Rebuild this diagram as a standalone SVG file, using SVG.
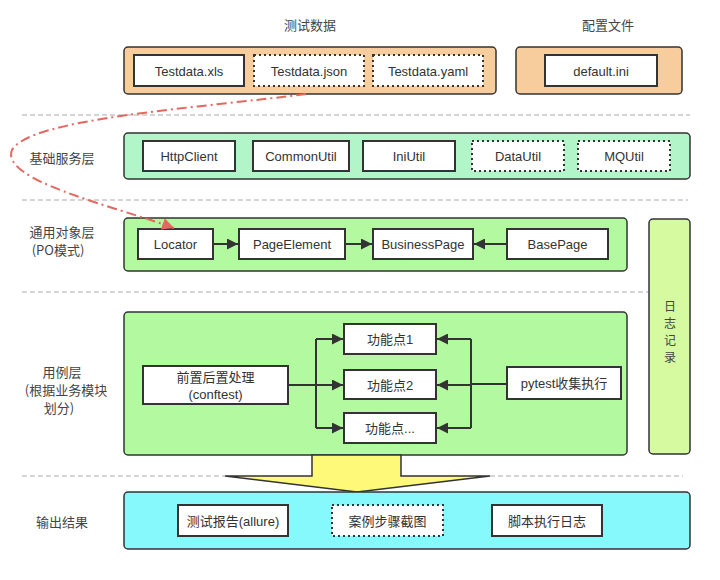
<svg xmlns="http://www.w3.org/2000/svg" width="720" height="580" viewBox="0 0 720 580">
<defs>
<style>
text{font-family:"Liberation Sans","Noto Sans CJK SC",sans-serif;font-size:13px;fill:#333;text-anchor:middle;dominant-baseline:central}
.lbl{font-family:"Noto Sans CJK SC","Liberation Sans",sans-serif;font-size:13px;fill:#444}
.vl{font-family:"Noto Sans CJK SC",sans-serif;font-size:12px;fill:#444}
.cont{stroke:#333;stroke-width:1.5}
.box{fill:#fff;stroke:#333;stroke-width:2}
.dot{fill:#fff;stroke:#333;stroke-width:2;stroke-dasharray:2 3}
.sep{stroke:#aaa;stroke-width:1;stroke-dasharray:5 3;fill:none}
.conn{stroke:#333;stroke-width:2;fill:none}
</style>
<marker id="ah" viewBox="0 0 10 10" refX="10" refY="5" markerWidth="5.5" markerHeight="5.5" orient="auto" markerUnits="strokeWidth">
<path d="M0,0 L10,5 L0,10 z" fill="#333"/>
</marker>
<marker id="rh" viewBox="0 0 10 10" refX="10" refY="5" markerWidth="6" markerHeight="6" orient="auto" markerUnits="strokeWidth">
<path d="M0,0 L10,5 L0,10 z" fill="#E5675F"/>
</marker>
</defs>
<rect width="720" height="580" fill="#fff"/>

<g id="separators">
<line class="sep" x1="22" y1="115" x2="690" y2="115"/>
<line class="sep" x1="22" y1="200" x2="688" y2="200"/>
<line class="sep" x1="22" y1="292" x2="648" y2="292"/>
<line class="sep" x1="22" y1="476" x2="225" y2="476"/>
<line class="sep" x1="490" y1="476" x2="683" y2="476"/>
</g>

<g id="layer-labels">
<text class="lbl" x="310" y="24">测试数据</text>
<text class="lbl" x="608" y="24">配置文件</text>
<text class="lbl" x="62" y="157">基础服务层</text>
<text class="lbl" x="62" y="231">通用对象层</text>
<text class="lbl" x="58" y="249">(PO模式)</text>
<text class="lbl" x="62" y="371">用例层</text>
<text class="lbl" x="66" y="389">(根据业务模块</text>
<text class="lbl" x="59" y="407">划分)</text>
<text class="lbl" x="62" y="521">输出结果</text>
</g>

<g id="testdata">
<rect class="cont" x="124" y="47" width="372" height="47" rx="4" fill="#F7CD9E"/>
<g id="xls"><rect class="box" x="134" y="55" width="110" height="31"/><text x="189" y="71">Testdata.xls</text></g>
<g id="json"><rect class="dot" x="254" y="55" width="110" height="31"/><text x="309" y="71">Testdata.json</text></g>
<g id="yaml"><rect class="dot" x="373" y="55" width="110" height="31"/><text x="428" y="71">Testdata.yaml</text></g>
</g>

<g id="config">
<rect class="cont" x="516" y="47" width="166" height="47" rx="4" fill="#F7CD9E"/>
<g id="defaultini"><rect class="box" x="545" y="55" width="112" height="31"/><text x="601" y="71">default.ini</text></g>
</g>

<g id="base-layer">
<rect class="cont" x="124" y="133" width="566" height="46" rx="4" fill="#B2F5C9"/>
<g id="httpclient"><rect class="box" x="143" y="141" width="92" height="30"/><text x="189" y="156">HttpClient</text></g>
<g id="commonutil"><rect class="box" x="253" y="141" width="96" height="30"/><text x="301" y="156">CommonUtil</text></g>
<g id="iniutil"><rect class="box" x="363" y="141" width="92" height="30"/><text x="409" y="156">IniUtil</text></g>
<g id="datautil"><rect class="dot" x="472" y="141" width="92" height="30"/><text x="518" y="156">DataUtil</text></g>
<g id="mqutil"><rect class="dot" x="578" y="141" width="92" height="30"/><text x="624" y="156">MQUtil</text></g>
</g>

<g id="po-layer">
<rect class="cont" x="124" y="218" width="503" height="53" rx="4" fill="#B3F99F"/>
<g id="locator"><rect class="box" x="138" y="229" width="75" height="30"/><text x="175.500" y="244">Locator</text></g>
<g id="pageelement"><rect class="box" x="239" y="229" width="106" height="30"/><text x="292" y="244">PageElement</text></g>
<g id="businesspage"><rect class="box" x="373" y="229" width="100" height="30"/><text x="423" y="244">BusinessPage</text></g>
<g id="basepage"><rect class="box" x="507" y="229" width="101" height="30"/><text x="557.500" y="244">BasePage</text></g>
</g>

<g id="case-layer">
<rect class="cont" x="124" y="312" width="503" height="143" rx="4" fill="#B3F99F"/>
<g id="fixture"><rect class="box" x="143" y="366" width="145" height="38"/><text x="215.500" y="377">前置后置处理</text><text x="215.500" y="394">(conftest)</text></g>
<g id="func1"><rect class="box" x="344" y="324" width="92" height="30"/><text x="390" y="339">功能点1</text></g>
<g id="func2"><rect class="box" x="344" y="370" width="92" height="29"/><text x="390" y="385">功能点2</text></g>
<g id="func3"><rect class="box" x="344" y="413" width="92" height="30"/><text x="390" y="428">功能点...</text></g>
<g id="pytest"><rect class="box" x="507" y="367" width="114" height="32"/><text x="564" y="383">pytest收集执行</text></g>
</g>

<g id="log">
<rect class="cont" x="649" y="219" width="41" height="235" rx="4" fill="#D6FA9F"/>
<text class="vl" x="670" y="305">日</text>
<text class="vl" x="670" y="322">志</text>
<text class="vl" x="670" y="339">记</text>
<text class="vl" x="670" y="356">录</text>
</g>

<g id="big-arrow">
<path d="M312,455 L401,455 L401,476 L490,476 L357,492 L225,476 L312,476 Z" fill="#FFF97A" stroke="#333" stroke-width="1.5" stroke-linejoin="miter"/>
</g>

<g id="output-layer">
<rect class="cont" x="124" y="492" width="566" height="57" rx="4" fill="#86F9FC"/>
<g id="report"><rect class="box" x="178" y="505" width="110" height="31"/><text x="233" y="521">测试报告(allure)</text></g>
<g id="screenshot"><rect class="dot" x="332" y="505" width="111" height="31"/><text x="387.500" y="521">案例步骤截图</text></g>
<g id="scriptlog"><rect class="box" x="492" y="505" width="110" height="31"/><text x="547" y="521">脚本执行日志</text></g>
</g>

<g id="connectors">
<line class="conn" x1="213" y1="244" x2="238" y2="244" marker-end="url(#ah)"/>
<line class="conn" x1="345" y1="244" x2="372" y2="244" marker-end="url(#ah)"/>
<line class="conn" x1="507" y1="244" x2="474" y2="244" marker-end="url(#ah)"/>
<path class="conn" d="M288,385 L316,385"/>
<path class="conn" d="M316,428 L316,339"/>
<line class="conn" x1="316" y1="339" x2="343" y2="339" marker-end="url(#ah)"/>
<line class="conn" x1="316" y1="385" x2="343" y2="385" marker-end="url(#ah)"/>
<line class="conn" x1="316" y1="428" x2="343" y2="428" marker-end="url(#ah)"/>
<path class="conn" d="M507,384 L471,384"/>
<path class="conn" d="M471,428 L471,339"/>
<line class="conn" x1="471" y1="339" x2="437" y2="339" marker-end="url(#ah)"/>
<line class="conn" x1="471" y1="385" x2="437" y2="385" marker-end="url(#ah)"/>
<line class="conn" x1="471" y1="428" x2="437" y2="428" marker-end="url(#ah)"/>
<path d="M306,94 C200,108 30,118 12,150 C0,180 110,205 174,228" fill="none" stroke="#E5675F" stroke-width="2" stroke-dasharray="10 4 2 4" marker-end="url(#rh)"/>
</g>
</svg>
